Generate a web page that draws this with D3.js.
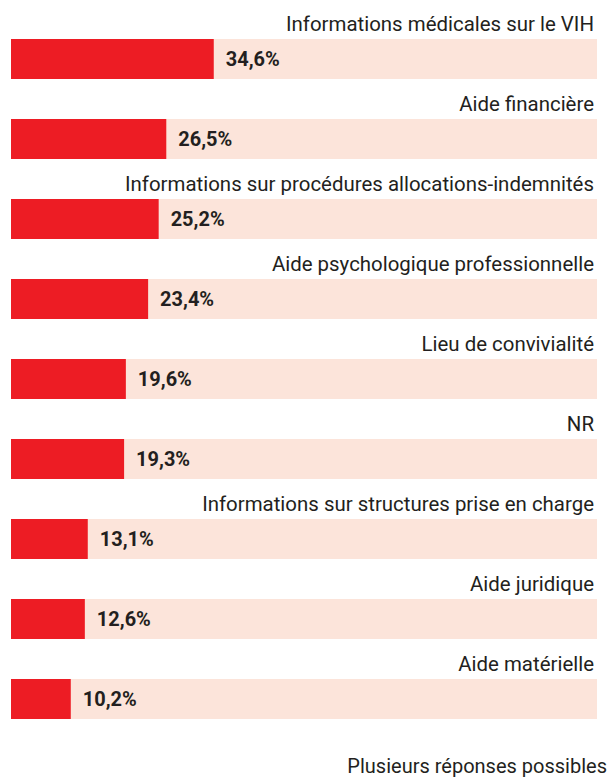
<!DOCTYPE html>
<html>
<head>
<meta charset="utf-8">
<script src="https://cdn.jsdelivr.net/npm/d3@7"></script>
<style>
  html, body { margin: 0; padding: 0; background: #fff; overflow: hidden; }
  svg { display: block; }
  text { font-family: "Liberation Sans Narrow", "Roboto", "Liberation Sans", sans-serif; fill: #231f20; }
</style>
</head>
<body>
<svg id="chart" width="612" height="781"></svg>
<script>
const categories = [
  "Informations médicales sur le VIH",
  "Aide financière",
  "Informations sur procédures allocations-indemnités",
  "Aide psychologique professionnelle",
  "Lieu de convivialité",
  "NR",
  "Informations sur structures prise en charge",
  "Aide juridique",
  "Aide matérielle"
];
const values = [34.6, 26.5, 25.2, 23.4, 19.6, 19.3, 13.1, 12.6, 10.2];
const maxValue = 100;
const note = "Plusieurs réponses possibles";

const svg = d3.select("#chart");
const x = d3.scaleLinear().domain([0, maxValue]).range([11, 597]);
const y = d3.scaleBand().domain(categories).range([39, 719]).paddingInner(0.5).paddingOuter(0);

const fmt = v => d3.format(".1f")(v).replace(".", ",") + "%";

const g = svg.selectAll("g.row").data(categories.map((c, i) => ({c, v: values[i]})))
  .join("g").attr("class", "row");

g.append("rect")
  .attr("x", x(0)).attr("width", x(maxValue) - x(0))
  .attr("y", d => y(d.c)).attr("height", y.bandwidth())
  .attr("fill", "#fce4da");

g.append("rect")
  .attr("x", x(0)).attr("width", d => x(d.v) - x(0))
  .attr("y", d => y(d.c)).attr("height", y.bandwidth())
  .attr("fill", "#ed1c24");

const labels = g.append("text")
  .attr("class", "cat")
  .attr("x", 594)
  .attr("y", d => y(d.c) - 8)
  .attr("text-anchor", "end")
  .attr("font-size", 21)
  .text(d => d.c);

const vals = g.append("text")
  .attr("class", "val")
  .attr("x", d => x(d.v) + 12)
  .attr("y", d => y(d.c) + y.bandwidth() / 2 + 7)
  .attr("font-size", 21)
  .attr("font-weight", "bold")
  .text(d => fmt(d.v));

const noteText = svg.append("text")
  .attr("x", 607)
  .attr("y", 773)
  .attr("text-anchor", "end")
  .attr("font-size", 20)
  .text(note);

// Horizontal fit to the condensed typeface of the original
const refLabelW = labels.nodes()[0].getComputedTextLength();
const kLabel = 308 / refLabelW;
labels.each(function() {
  const w = this.getComputedTextLength();
  d3.select(this).attr("textLength", w * kLabel).attr("lengthAdjust", "spacingAndGlyphs");
});
const refValW = vals.nodes()[0].getComputedTextLength();
const kVal = 54 / refValW;
vals.each(function() {
  const w = this.getComputedTextLength();
  d3.select(this).attr("textLength", w * kVal).attr("lengthAdjust", "spacingAndGlyphs");
});
</script>
</body>
</html>
